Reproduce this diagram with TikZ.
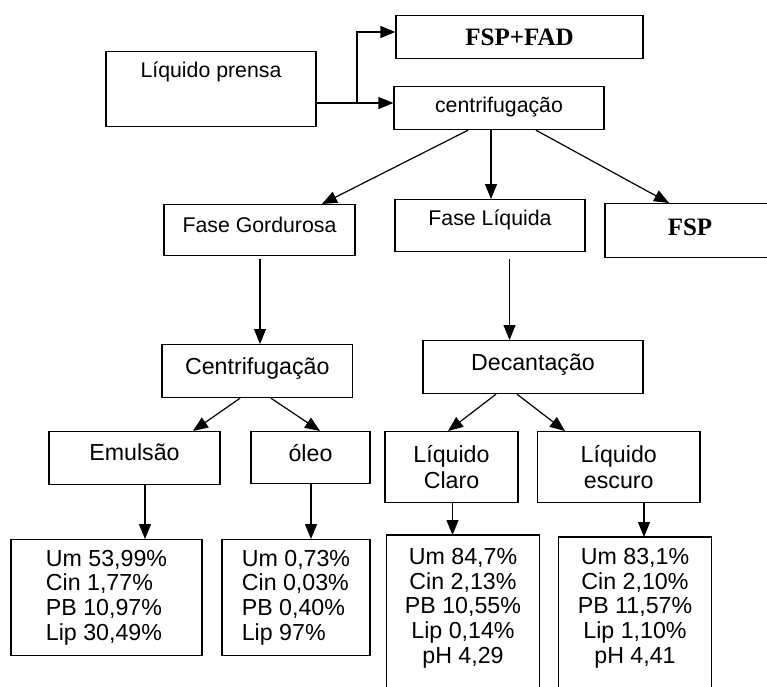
\documentclass[tikz,border=0pt]{standalone}
\usepackage{fontspec}
\setmainfont{Liberation Sans}
\newfontfamily\serifb{Liberation Serif}
\usetikzlibrary{arrows.meta}
\begin{document}
\begin{tikzpicture}[x=1pt,y=-1pt,
  box/.style={draw, line width=1.2pt, inner sep=0pt, anchor=north},
  sm/.style={font=\fontsize{21.3}{25}\selectfont},
  lg/.style={font=\fontsize{23.2}{24.8}\selectfont},
  lg2/.style={font=\fontsize{23.2}{26}\selectfont},
  bf/.style={font=\fontsize{25}{28}\serifb\bfseries},
  arr/.style={line width=1.2pt, -{Triangle[length=15pt,width=12pt]}},
  ln/.style={line width=1.2pt}]
\useasboundingbox (0,0) rectangle (767,686);
\clip (0,0) rectangle (767,686);
% top row
\node[box,sm,minimum width=210pt,text height=26pt,text depth=49pt] (lp) at (211,51) {Líquido prensa};
\node[box,bf,minimum width=247pt,text height=30pt,text depth=13pt] (fa) at (519.5,15) {FSP+FAD};
\node[box,sm,minimum width=210pt,text height=26pt,text depth=17pt] (cf) at (499,86) {centrifugação};
% second row
\node[box,sm,minimum width=191pt,text height=28pt,text depth=23pt] (fg) at (259.5,204) {Fase Gordurosa};
\node[box,sm,minimum width=190pt,text height=26pt,text depth=26pt] (fl) at (490,199) {Fase Líquida};
\node[box,bf,minimum width=170pt,text height=32pt,text depth=22pt] (fsp) at (690,203) {FSP};
% third row
\node[box,lg,minimum width=190.5pt,text height=30pt,text depth=23pt] (c2) at (257.25,344) {Centrifugação};
\node[box,lg,minimum width=220pt,text height=30pt,text depth=23pt] (dc) at (533,340) {Decantação};
% fourth row
\node[box,lg,minimum width=171pt,text height=29pt,text depth=24pt] (em) at (134.5,431) {Emulsão};
\node[box,lg,minimum width=119pt,text height=30pt,text depth=22pt] (ol) at (310.5,431) {óleo};
\node[box,lg2,align=center,minimum width=133pt,minimum height=71pt] (lc) at (451.5,431) {Líquido\\Claro};
\node[box,lg2,align=center,minimum width=162.5pt,minimum height=71pt] (le) at (618.75,431) {Líquido\\escuro};
% data boxes
\node[box,lg,align=left,minimum width=191pt,minimum height=116pt] (d1) at (106.5,539) {Um 53,99\%\\Cin 1,77\%\\PB 10,97\%\\Lip 30,49\%};
\node[box,lg,align=left,minimum width=148pt,minimum height=116pt] (d2) at (296,539) {Um 0,73\%\\Cin 0,03\%\\PB 0,40\%\\Lip 97\%};
\node[box,draw=none,lg,align=center,minimum width=152pt,minimum height=145pt] (d3) at (463,535) {Um 84,7\%\\Cin 2,13\%\\PB 10,55\%\\Lip 0,14\%\\pH 4,29};
\node[box,draw=none,lg,align=center,minimum width=152pt,minimum height=141pt] (d4) at (635,537) {Um 83,1\%\\Cin 2,10\%\\PB 11,57\%\\Lip 1,10\%\\pH 4,41};
\draw[ln] ([yshift=-30pt]d3.south west) -- (d3.north west) -- (d3.north east) -- ([yshift=-30pt]d3.south east);
\draw[ln] ([yshift=-30pt]d4.south west) -- (d4.north west) -- (d4.north east) -- ([yshift=-30pt]d4.south east);
% connectors
\coordinate (j) at (357,103);
\draw[ln] (lp.east |- j) -- (j);
\draw[arr] (j) -- (cf.west |- j);
\draw[arr] (j) |- (fa.west |- 0,32);
\draw[arr] (cf.south -| 468,0) -- (fg.north -| 322,0);
\draw[arr] (cf.south -| 491,0) -- (fl.north -| 491,0);
\draw[arr] (cf.south -| 536,0) -- (fsp.north -| 669,0);
\draw[arr, shorten <=3pt] (fg.south -| 260,0) -- (c2.north -| 260,0);
\draw[arr, shorten <=7pt] (fl.south -| 509.5,0) -- (dc.north -| 509.5,0);
\draw[arr] (c2.south -| 240,0) -- (em.north -| 193,0);
\draw[arr] (c2.south -| 271,0) -- (ol.north -| 320,0);
\draw[arr] (dc.south -| 496,0) -- (lc.north -| 448,0);
\draw[arr] (dc.south -| 517,0) -- (le.north -| 565,0);
\draw[arr] (em.south -| 145,0) -- (d1.north -| 145,0);
\draw[arr] (ol.south -| 311,0) -- (d2.north -| 311,0);
\draw[arr] (lc.south -| 452.5,0) -- (d3.north -| 452.5,0);
\draw[arr] (le.south -| 644,0) -- (d4.north -| 644,0);
\end{tikzpicture}
\end{document}
